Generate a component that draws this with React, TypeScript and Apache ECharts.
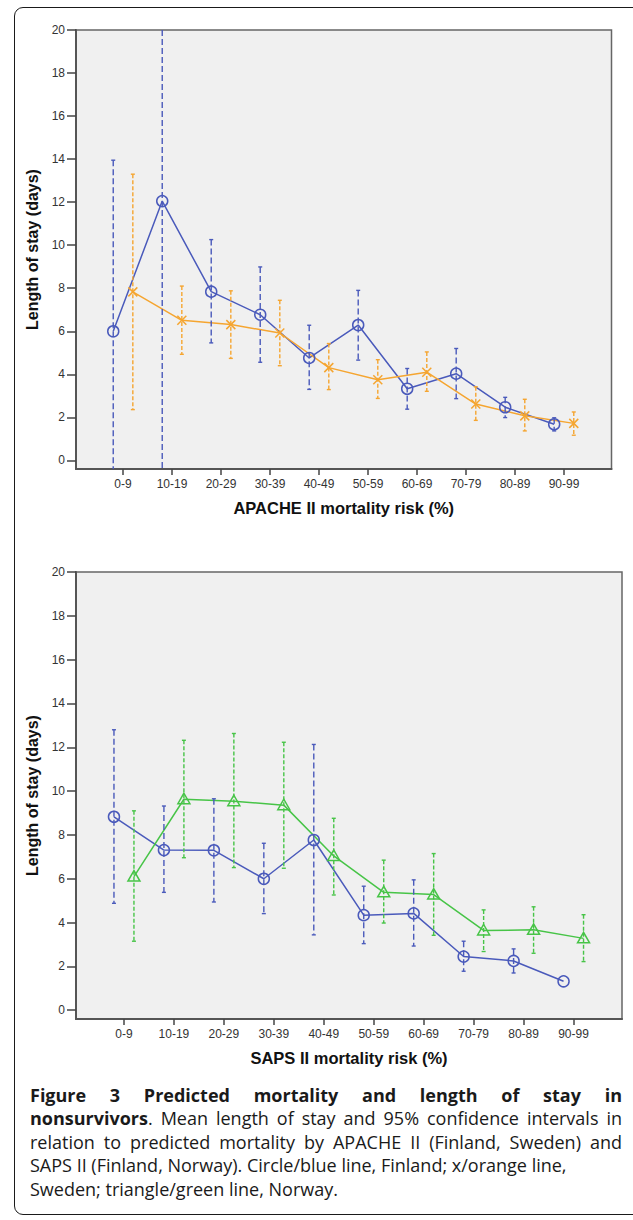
import React, { useEffect, useRef } from "react";
import * as echarts from "echarts";

// ---------- data ----------
const categories = ["0-9", "10-19", "20-29", "30-39", "40-49", "50-59", "60-69", "70-79", "80-89", "90-99"];
const yTicks = [0, 2, 4, 6, 8, 10, 12, 14, 16, 18, 20];

// APACHE II – Finland (circle / blue)
const apacheFinlandMean = [6.0, 12.05, 7.84, 6.77, 4.76, 6.29, 3.33, 4.03, 2.47, 1.68];
const apacheFinlandLow = [-1.0, -1.0, 5.46, 4.56, 3.3, 4.66, 2.38, 2.87, 1.99, 1.37];
const apacheFinlandHigh = [13.95, 20.5, 10.26, 8.99, 6.28, 7.9, 4.27, 5.2, 2.93, 1.98];

// APACHE II – Sweden (x / orange)
const apacheSwedenMean = [7.83, 6.51, 6.31, 5.92, 4.31, 3.75, 4.1, 2.62, 2.07, 1.72];
const apacheSwedenLow = [2.36, 4.93, 4.74, 4.4, 3.29, 2.88, 3.21, 1.86, 1.37, 1.17];
const apacheSwedenHigh = [13.3, 8.1, 7.88, 7.44, 5.43, 4.68, 5.04, 3.42, 2.84, 2.25];

// SAPS II – Finland (circle / blue)
const sapsFinlandMean = [8.83, 7.31, 7.3, 6.0, 7.77, 4.34, 4.42, 2.45, 2.25, 1.32];
const sapsFinlandLow = [4.88, 5.38, 4.94, 4.41, 3.44, 3.04, 2.93, 1.78, 1.7, null];
const sapsFinlandHigh = [12.8, 9.32, 9.65, 7.62, 12.13, 5.66, 5.95, 3.15, 2.8, null];

// SAPS II – Norway (triangle / green)
const sapsNorwayMean = [6.1, 9.63, 9.54, 9.36, 7.04, 5.38, 5.28, 3.64, 3.67, 3.28];
const sapsNorwayLow = [3.15, 6.96, 6.51, 6.48, 5.26, 3.98, 3.42, 2.68, 2.6, 2.22];
const sapsNorwayHigh = [9.1, 12.32, 12.63, 12.23, 8.76, 6.85, 7.15, 4.58, 4.72, 4.36];

const xTitleTop = "APACHE II mortality risk (%)";
const xTitleBottom = "SAPS II mortality risk (%)";
const yTitle = "Length of stay (days)";

// ---------- styles ----------
const BLUE = "#4a5abb";
const ORANGE = "#f5a530";
const GREEN = "#47c447";
const FONT = "'Liberation Sans', Arial, sans-serif";
const CAPTION_FONT = "'Open Sans', 'Noto Sans', sans-serif";

const tickIdx = categories.map((_, i) => i);

function lineSeries(g: number, offset: number, mean: number[], color: string) {
  return {
    type: "line",
    xAxisIndex: g,
    yAxisIndex: g,
    data: mean.map((m, i) => [i + offset, m]),
    symbol: "none",
    lineStyle: { color, width: 1.5 },
    z: 2,
    silent: true,
  };
}

function errSeries(
  g: number,
  offset: number,
  mean: number[],
  low: (number | null)[],
  high: (number | null)[],
  color: string,
  marker: string,
  dash: number[]
) {
  return {
    type: "custom",
    xAxisIndex: g,
    yAxisIndex: g,
    data: mean.map((m, i) => [i + offset, m, low[i] == null ? NaN : low[i], high[i] == null ? NaN : high[i]]),
    z: 3,
    silent: true,
    renderItem: (params: any, api: any) => {
      const cs = params.coordSys;
      const top = cs.y;
      const bottom = cs.y + cs.height;
      const x = api.value(0);
      const m = api.value(1);
      const lo = api.value(2);
      const hi = api.value(3);
      const pm = api.coord([x, m]);
      const px = pm[0];
      const children: any[] = [];
      if (!isNaN(lo) && !isNaN(hi)) {
        let yHi = api.coord([x, hi])[1];
        let yLo = api.coord([x, lo])[1];
        const hiCap = yHi >= top;
        const loCap = yLo <= bottom;
        yHi = Math.max(top, yHi);
        yLo = Math.min(bottom, yLo);
        children.push({
          type: "line",
          shape: { x1: px, y1: yHi, x2: px, y2: yLo },
          style: { stroke: color, lineWidth: 1.4, lineDash: dash },
        });
        if (hiCap)
          children.push({
            type: "line",
            shape: { x1: px - 2, y1: yHi, x2: px + 2, y2: yHi },
            style: { stroke: color, lineWidth: 1.4 },
          });
        if (loCap)
          children.push({
            type: "line",
            shape: { x1: px - 2, y1: yLo, x2: px + 2, y2: yLo },
            style: { stroke: color, lineWidth: 1.4 },
          });
      }
      const cx = px;
      const cy = pm[1];
      if (marker === "circle") {
        children.push({
          type: "circle",
          shape: { cx, cy, r: 5.5 },
          style: { fill: "none", stroke: color, lineWidth: 1.5 },
        });
      } else if (marker === "x") {
        const r = 4.5;
        children.push({
          type: "line",
          shape: { x1: cx - r, y1: cy - r, x2: cx + r, y2: cy + r },
          style: { stroke: color, lineWidth: 1.5 },
        });
        children.push({
          type: "line",
          shape: { x1: cx - r, y1: cy + r, x2: cx + r, y2: cy - r },
          style: { stroke: color, lineWidth: 1.5 },
        });
      } else {
        children.push({
          type: "polygon",
          shape: {
            points: [
              [cx, cy - 6],
              [cx - 6, cy + 4.5],
              [cx + 6, cy + 4.5],
            ],
          },
          style: { fill: "none", stroke: color, lineWidth: 1.5 },
        });
      }
      return { type: "group", children };
    },
  };
}

function xAxis(g: number, name: string) {
  return {
    type: "value",
    gridIndex: g,
    min: -0.96,
    max: 9.97,
    name,
    nameLocation: "middle",
    nameGap: 30,
    nameTextStyle: { fontFamily: FONT, fontSize: 16.5, fontWeight: "bold", color: "#111" },
    axisLine: { show: true, onZero: false, lineStyle: { color: "#555", width: 2 } },
    axisTick: { show: true, customValues: tickIdx, length: 6, lineStyle: { color: "#444", width: 1.5 } },
    axisLabel: {
      customValues: tickIdx,
      formatter: (v: number) => categories[Math.round(v)] ?? "",
      fontFamily: FONT,
      fontSize: 12,
      color: "#333",
      margin: 9,
    },
    splitLine: { show: false },
  };
}

function yAxis(g: number) {
  return {
    type: "value",
    gridIndex: g,
    min: -0.4,
    max: 20,
    name: yTitle,
    nameLocation: "middle",
    nameGap: 28,
    nameTextStyle: { fontFamily: FONT, fontSize: 16, fontWeight: "bold", color: "#111" },
    axisLine: { show: true, onZero: false, lineStyle: { color: "#555", width: 2 } },
    axisTick: { show: true, customValues: yTicks, length: 9, lineStyle: { color: "#444", width: 1.5 } },
    axisLabel: {
      customValues: yTicks,
      fontFamily: FONT,
      fontSize: 12,
      color: "#333",
      margin: 11,
    },
    splitLine: { show: false },
  };
}

function Chart() {
  const ref = useRef<HTMLDivElement>(null);
  useEffect(() => {
    if (!ref.current) return;
    const chart = echarts.init(ref.current, undefined, { renderer: "svg" });
    chart.setOption({
      animation: false,
      backgroundColor: "transparent",
      grid: [
        {
          left: 76,
          top: 30,
          width: 535.5,
          height: 439,
          show: true,
          backgroundColor: "#f0f0f0",
          borderColor: "#666",
          borderWidth: 1.5,
        },
        {
          left: 76,
          top: 572,
          width: 546,
          height: 447,
          show: true,
          backgroundColor: "#f0f0f0",
          borderColor: "#666",
          borderWidth: 1.5,
        },
      ],
      xAxis: [xAxis(0, xTitleTop), xAxis(1, xTitleBottom)],
      yAxis: [yAxis(0), yAxis(1)],
      series: [
        lineSeries(0, -0.2, apacheFinlandMean, BLUE),
        lineSeries(0, 0.2, apacheSwedenMean, ORANGE),
        errSeries(0, -0.2, apacheFinlandMean, apacheFinlandLow, apacheFinlandHigh, BLUE, "circle", [6, 3]),
        errSeries(0, 0.2, apacheSwedenMean, apacheSwedenLow, apacheSwedenHigh, ORANGE, "x", [4, 2]),
        lineSeries(1, -0.2, sapsFinlandMean, BLUE),
        lineSeries(1, 0.2, sapsNorwayMean, GREEN),
        errSeries(1, -0.2, sapsFinlandMean, sapsFinlandLow, sapsFinlandHigh, BLUE, "circle", [6, 3]),
        errSeries(1, 0.2, sapsNorwayMean, sapsNorwayLow, sapsNorwayHigh, GREEN, "triangle", [4, 2]),
      ],
    });
    return () => chart.dispose();
  }, []);
  return <div ref={ref} style={{ position: "absolute", left: 0, top: 0, width: 633, height: 1080 }} />;
}

const lineStyle = (top: number, justify: boolean): React.CSSProperties => ({
  position: "absolute",
  left: 30,
  top,
  width: 592,
  whiteSpace: justify ? "normal" : "nowrap",
  textAlign: justify ? "justify" : "left",
  textAlignLast: justify ? "justify" : "left",
  lineHeight: "23.5px",
  height: 23.5,
});

export default function App() {
  return (
    <div
      style={{
        position: "absolute",
        left: 0,
        top: 0,
        width: 633,
        height: 1220,
        overflow: "hidden",
        background: "#fff",
      }}
    >
      <div
        style={{
          position: "absolute",
          left: 14,
          top: 7,
          width: 660,
          height: 1208,
          border: "1.5px solid #1a1a1a",
          borderRadius: 9,
          boxSizing: "border-box",
        }}
      />
      <Chart />
      <div
        style={{
          position: "absolute",
          left: 0,
          top: 0,
          width: 633,
          fontFamily: CAPTION_FONT,
          fontSize: 18,
          color: "#1a1a1a",
        }}
      >
        <div style={{ ...lineStyle(1083.5, true), fontWeight: "bold" }}>
          Figure 3 Predicted mortality and length of stay in
        </div>
        <div style={lineStyle(1107, true)}>
          <b>nonsurvivors</b>. Mean length of stay and 95% confidence intervals in
        </div>
        <div style={lineStyle(1130.5, true)}>relation to predicted mortality by APACHE II (Finland, Sweden) and</div>
        <div style={lineStyle(1154, false)}>SAPS II (Finland, Norway). Circle/blue line, Finland; x/orange line,</div>
        <div style={lineStyle(1177.5, false)}>Sweden; triangle/green line, Norway.</div>
      </div>
    </div>
  );
}
